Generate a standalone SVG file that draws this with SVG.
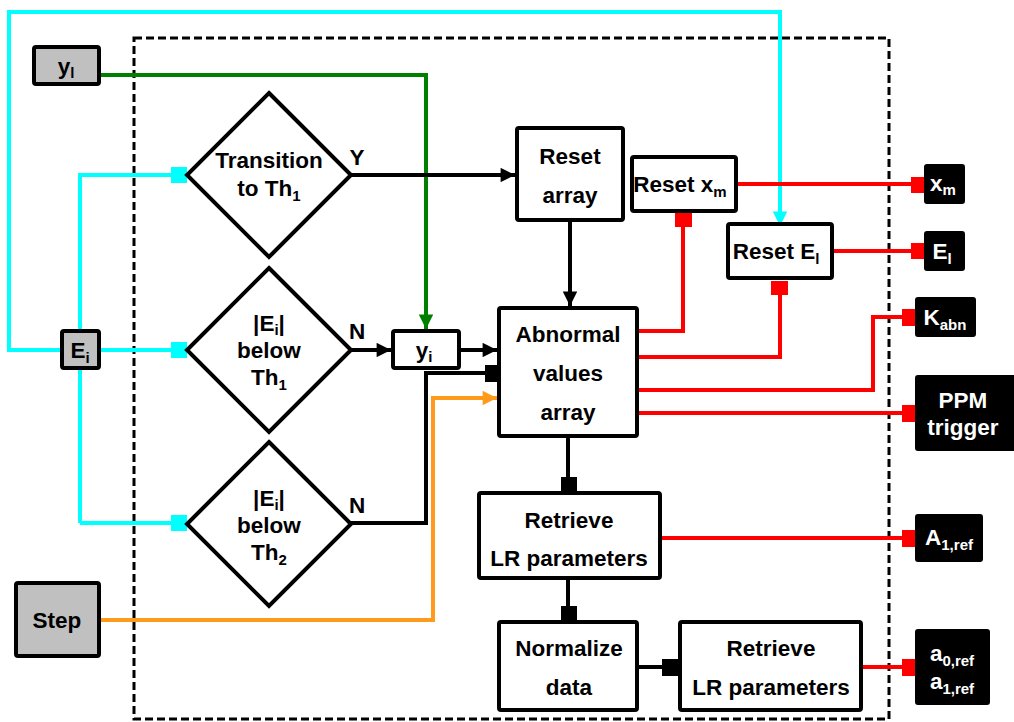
<svg xmlns="http://www.w3.org/2000/svg" width="1014" height="722" viewBox="0 0 1014 722">
<style>
  text { font-family: "Liberation Sans", Arial, sans-serif; font-weight: bold; font-size: 22.5px; text-anchor: middle; fill: #000; }
  .sub { font-size: 15px; }
  .w { fill: #fff; }
  .box { fill: #fff; stroke: #000; stroke-width: 4; }
  .in { fill: #c0c0c0; stroke: #000; stroke-width: 4; }
  .out { fill: #000; stroke: #000; stroke-width: 2; }
  .dia { fill: #fff; stroke: #000; stroke-width: 4; stroke-linejoin: miter; }
  .ln { fill: none; stroke-width: 4; stroke-linejoin: miter; }
  .k { stroke: #000; }
  .r { stroke: #ff0000; }
  .c { stroke: #00ffff; }
  .g { stroke: #008000; }
  .o { stroke: #ff9a1a; }
</style>
<defs>
  <marker id="ak" viewBox="0 0 10 10" refX="10" refY="5" markerWidth="5" markerHeight="3.6" orient="auto" markerUnits="strokeWidth"><path d="M0,0 L10,5 L0,10 Z" fill="#000"/></marker>
  <marker id="ac" viewBox="0 0 10 10" refX="10" refY="5" markerWidth="5" markerHeight="3.6" orient="auto" markerUnits="strokeWidth"><path d="M0,0 L10,5 L0,10 Z" fill="#00ffff"/></marker>
  <marker id="ag" viewBox="0 0 10 10" refX="10" refY="5" markerWidth="5" markerHeight="3.6" orient="auto" markerUnits="strokeWidth"><path d="M0,0 L10,5 L0,10 Z" fill="#008000"/></marker>
  <marker id="ao" viewBox="0 0 10 10" refX="10" refY="5" markerWidth="5" markerHeight="3.6" orient="auto" markerUnits="strokeWidth"><path d="M0,0 L10,5 L0,10 Z" fill="#ff9a1a"/></marker>
</defs>
<rect width="1014" height="722" fill="#fff"/>

<!-- processing boundary -->
<rect x="134" y="38" width="755" height="681" fill="none" stroke="#000" stroke-width="3" stroke-dasharray="8,4"/>

<g id="connectors">
  <!-- E_i feedback loop to Reset E_l -->
  <path class="ln c" d="M62,350 H9 V12 H780 V226" marker-end="url(#ac)"/>
  <!-- E_i to the three decisions -->
  <path class="ln c" d="M80,523 V175 H175 M99,350 H175 M80,523 H175"/>
  <rect x="171" y="167" width="16" height="16" fill="#00ffff"/>
  <rect x="171" y="342" width="16" height="16" fill="#00ffff"/>
  <rect x="171" y="515" width="16" height="16" fill="#00ffff"/>
  <!-- y_l input -->
  <path class="ln g" d="M99,75 H426 V329" marker-end="url(#ag)"/>
  <!-- Step input -->
  <path class="ln o" d="M100,620 H433 V398 H497" marker-end="url(#ao)"/>
  <!-- decision outputs -->
  <path class="ln k" d="M350,175 H515" marker-end="url(#ak)"/>
  <path class="ln k" d="M350,350 H391" marker-end="url(#ak)"/>
  <path class="ln k" d="M459,350 H497" marker-end="url(#ak)"/>
  <path class="ln k" d="M350,523 H426 V373 H490"/>
  <rect x="485" y="365" width="14" height="17" fill="#000"/>
  <path class="ln k" d="M570,220 V306" marker-end="url(#ak)"/>
  <!-- processing chain -->
  <path class="ln k" d="M568,436 V480"/>
  <rect x="561" y="477" width="16" height="16" fill="#000"/>
  <path class="ln k" d="M568,578 V610"/>
  <rect x="561" y="606" width="16" height="16" fill="#000"/>
  <path class="ln k" d="M637,667 H665"/>
  <rect x="662" y="659" width="18" height="17" fill="#000"/>
  <!-- reset requests -->
  <path class="ln r" d="M637,331 H683 V222"/>
  <rect x="675" y="213" width="17" height="14" fill="#ff0000"/>
  <path class="ln r" d="M637,357 H780 V290"/>
  <rect x="771" y="281" width="17" height="14" fill="#ff0000"/>
  <!-- outputs -->
  <path class="ln r" d="M736,184 H915"/>
  <rect x="911" y="177" width="14" height="16" fill="#ff0000"/>
  <path class="ln r" d="M832,251 H915"/>
  <rect x="911" y="243" width="14" height="16" fill="#ff0000"/>
  <path class="ln r" d="M637,390 H873 V317 H906"/>
  <rect x="902" y="309" width="14" height="17" fill="#ff0000"/>
  <path class="ln r" d="M637,413 H906"/>
  <rect x="902" y="405" width="14" height="17" fill="#ff0000"/>
  <path class="ln r" d="M660,538 H906"/>
  <rect x="902" y="530" width="14" height="17" fill="#ff0000"/>
  <path class="ln r" d="M860,667 H906"/>
  <rect x="902" y="659" width="14" height="17" fill="#ff0000"/>
</g>

<g id="in-yl">
  <rect class="in" x="34" y="47" width="65" height="37" rx="2"/>
  <text x="66" y="74">y<tspan class="sub" dy="4">l</tspan></text>
</g>
<g id="in-ei">
  <rect class="in" x="62" y="331" width="37" height="37" rx="2"/>
  <text x="80" y="358">E<tspan class="sub" dy="5">i</tspan></text>
</g>
<g id="in-step">
  <rect class="in" x="16" y="583" width="83" height="73" rx="2"/>
  <text x="57" y="628">Step</text>
</g>

<g id="dec-transition">
  <path class="dia" d="M269,93 L351,175 L269,257 L187,175 Z"/>
  <text x="269" y="168">Transition</text>
  <text x="269" y="196">to Th<tspan class="sub" dy="5">1</tspan></text>
  <text x="357" y="165">Y</text>
</g>
<g id="dec-th1">
  <path class="dia" d="M269,268 L351,350 L269,432 L187,350 Z"/>
  <text x="269" y="331">|E<tspan class="sub" dy="4">i</tspan><tspan dy="-4">|</tspan></text>
  <text x="269" y="358">below</text>
  <text x="269" y="385">Th<tspan class="sub" dy="5">1</tspan></text>
  <text x="357" y="339">N</text>
</g>
<g id="dec-th2">
  <path class="dia" d="M269,442 L351,524 L269,606 L187,524 Z"/>
  <text x="269" y="506">|E<tspan class="sub" dy="4">i</tspan><tspan dy="-4">|</tspan></text>
  <text x="269" y="533">below</text>
  <text x="269" y="560">Th<tspan class="sub" dy="5">2</tspan></text>
  <text x="357" y="513">N</text>
</g>

<g id="yi">
  <rect class="box" x="393" y="331" width="66" height="37" rx="2"/>
  <text x="424" y="358">y<tspan class="sub" dy="4">i</tspan></text>
</g>
<g id="reset-array">
  <rect class="box" x="517" y="128" width="106" height="92" rx="2"/>
  <text x="570" y="164">Reset</text>
  <text x="570" y="203">array</text>
</g>
<g id="reset-xm">
  <rect class="box" x="632" y="157" width="104" height="54" rx="2"/>
  <text x="680" y="192">Reset x<tspan class="sub" dy="5">m</tspan></text>
</g>
<g id="reset-el">
  <rect class="box" x="728" y="224" width="104" height="54" rx="2"/>
  <text x="776" y="259">Reset E<tspan class="sub" dy="5">l</tspan></text>
</g>
<g id="abnormal">
  <rect class="box" x="499" y="308" width="138" height="128" rx="2"/>
  <text x="568" y="342">Abnormal</text>
  <text x="568" y="381">values</text>
  <text x="568" y="420">array</text>
</g>
<g id="retrieve1">
  <rect class="box" x="479" y="493" width="181" height="85" rx="2"/>
  <text x="569" y="528">Retrieve</text>
  <text x="569" y="566">LR parameters</text>
</g>
<g id="normalize">
  <rect class="box" x="499" y="622" width="138" height="88" rx="2"/>
  <text x="569" y="656">Normalize</text>
  <text x="569" y="695">data</text>
</g>
<g id="retrieve2">
  <rect class="box" x="680" y="622" width="181" height="88" rx="2"/>
  <text x="771" y="656">Retrieve</text>
  <text x="771" y="695">LR parameters</text>
</g>

<g id="out-xm">
  <rect class="out" x="925" y="165" width="39" height="38" rx="2"/>
  <text class="w" x="943" y="191">x<tspan class="sub" dy="4">m</tspan></text>
</g>
<g id="out-el">
  <rect class="out" x="925" y="232" width="39" height="38" rx="2"/>
  <text class="w" x="942" y="259">E<tspan class="sub" dy="5">l</tspan></text>
</g>
<g id="out-kabn">
  <rect class="out" x="916" y="298" width="59" height="38" rx="2"/>
  <text class="w" x="945" y="325">K<tspan class="sub" dy="5">abn</tspan></text>
</g>
<g id="out-ppm">
  <rect class="out" x="916" y="376" width="100" height="74" rx="2"/>
  <text class="w" x="963" y="408">PPM</text>
  <text class="w" x="963" y="435">trigger</text>
</g>
<g id="out-a1ref">
  <rect class="out" x="916" y="515" width="66" height="46" rx="2"/>
  <text class="w" x="949" y="545">A<tspan class="sub" dy="5">1,ref</tspan></text>
</g>
<g id="out-aref">
  <rect class="out" x="916" y="630" width="73" height="74" rx="2"/>
  <text class="w" x="952" y="661">a<tspan class="sub" dy="5">0,ref</tspan></text>
  <text class="w" x="952" y="689">a<tspan class="sub" dy="5">1,ref</tspan></text>
</g>
</svg>
